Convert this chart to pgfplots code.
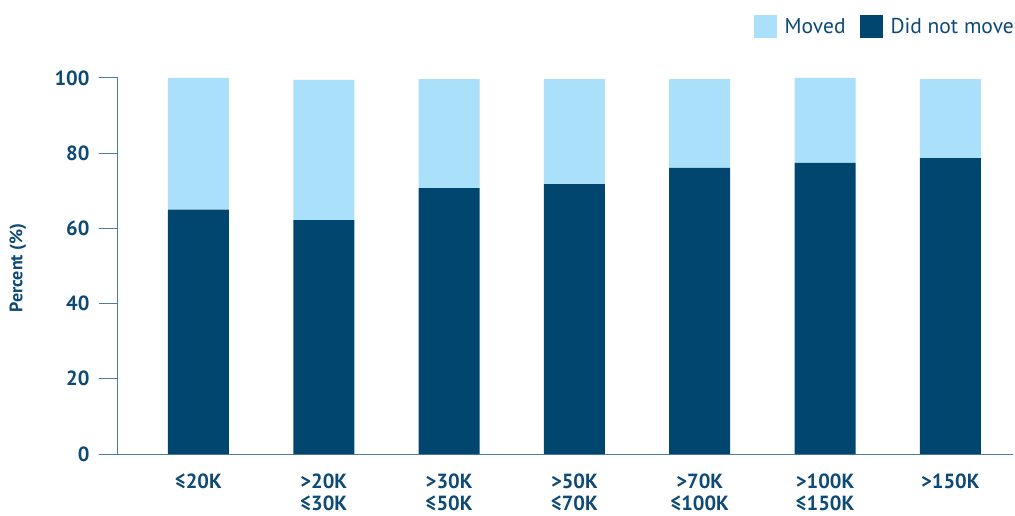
\documentclass[border=0pt]{standalone}
\usepackage{fontspec}
\setmainfont{PT Sans}
\usepackage{pgfplots}
\pgfplotsset{compat=1.18}
\definecolor{dark}{HTML}{00466F}
\definecolor{light}{HTML}{ABE0FA}
\definecolor{txt}{HTML}{0D4A75}
\definecolor{axc}{HTML}{4F7C9E}
\begin{document}
\begin{tikzpicture}[x=1pt,y=1pt]
\path[use as bounding box] (-118,-61) rectangle (897,454);
\begin{axis}[
  at={(0,0)}, anchor=south west,
  scale only axis, width=895pt, height=376pt,
  xmin=-0.642, xmax=6.5, ymin=0, ymax=100,
  axis x line*=bottom, axis y line*=left,
  axis line style={draw=axc, line width=1pt, -},
  ybar stacked, bar width=61pt,
  xtick={0,1,2,3,4,5,6},
  xticklabels={{≤20K},{>20K\\≤30K},{>30K\\≤50K},{>50K\\≤70K},{>70K\\≤100K},{>100K\\≤150K},{>150K}},
  xtick style={draw=none},
  ytick={0,20,40,60,80,100},
  ytick style={draw=axc, line width=1pt},
  major tick length=19pt, tick align=outside,
  /pgf/number format/assume math mode=true,
  ticklabel style={font=\bfseries\fontsize{20.5}{22}\selectfont, text=txt},
  xticklabel style={align=center, anchor=north, yshift=3pt},
  yticklabel style={xshift=-6pt},
  ylabel={Percent (\%)},
  every axis y label/.style={at={(rel axis cs:0,0.5)}, rotate=90, anchor=center, yshift=100pt, xshift=-2pt, font=\bfseries\fontsize{18}{20}\selectfont, text=txt},
  legend style={at={(rel axis cs:1,1)}, anchor=east, yshift=51pt, xshift=3pt, draw=none, fill=none, inner sep=0pt,
    font=\fontsize{21.5}{24}\selectfont, text=txt,
    /tikz/every even column/.append style={column sep=12pt}},
  legend columns=2, reverse legend,
]
\addplot[fill=dark, draw=none, legend image code/.code={\fill[dark] (0pt,-11.5pt) rectangle (23pt,11.5pt); \path (29pt,0pt);}] coordinates {(0,65) (1,62.2) (2,70.7) (3,71.8) (4,76.1) (5,77.4) (6,78.7)};
\addlegendentry{Did not move}
\addplot[fill=light, draw=none, legend image code/.code={\fill[light] (0pt,-11.5pt) rectangle (23pt,11.5pt); \path (29pt,0pt);}] coordinates {(0,35) (1,37.3) (2,29.0) (3,27.9) (4,23.6) (5,22.6) (6,21.0)};
\addlegendentry{Moved}
\end{axis}
\end{tikzpicture}
\end{document}
